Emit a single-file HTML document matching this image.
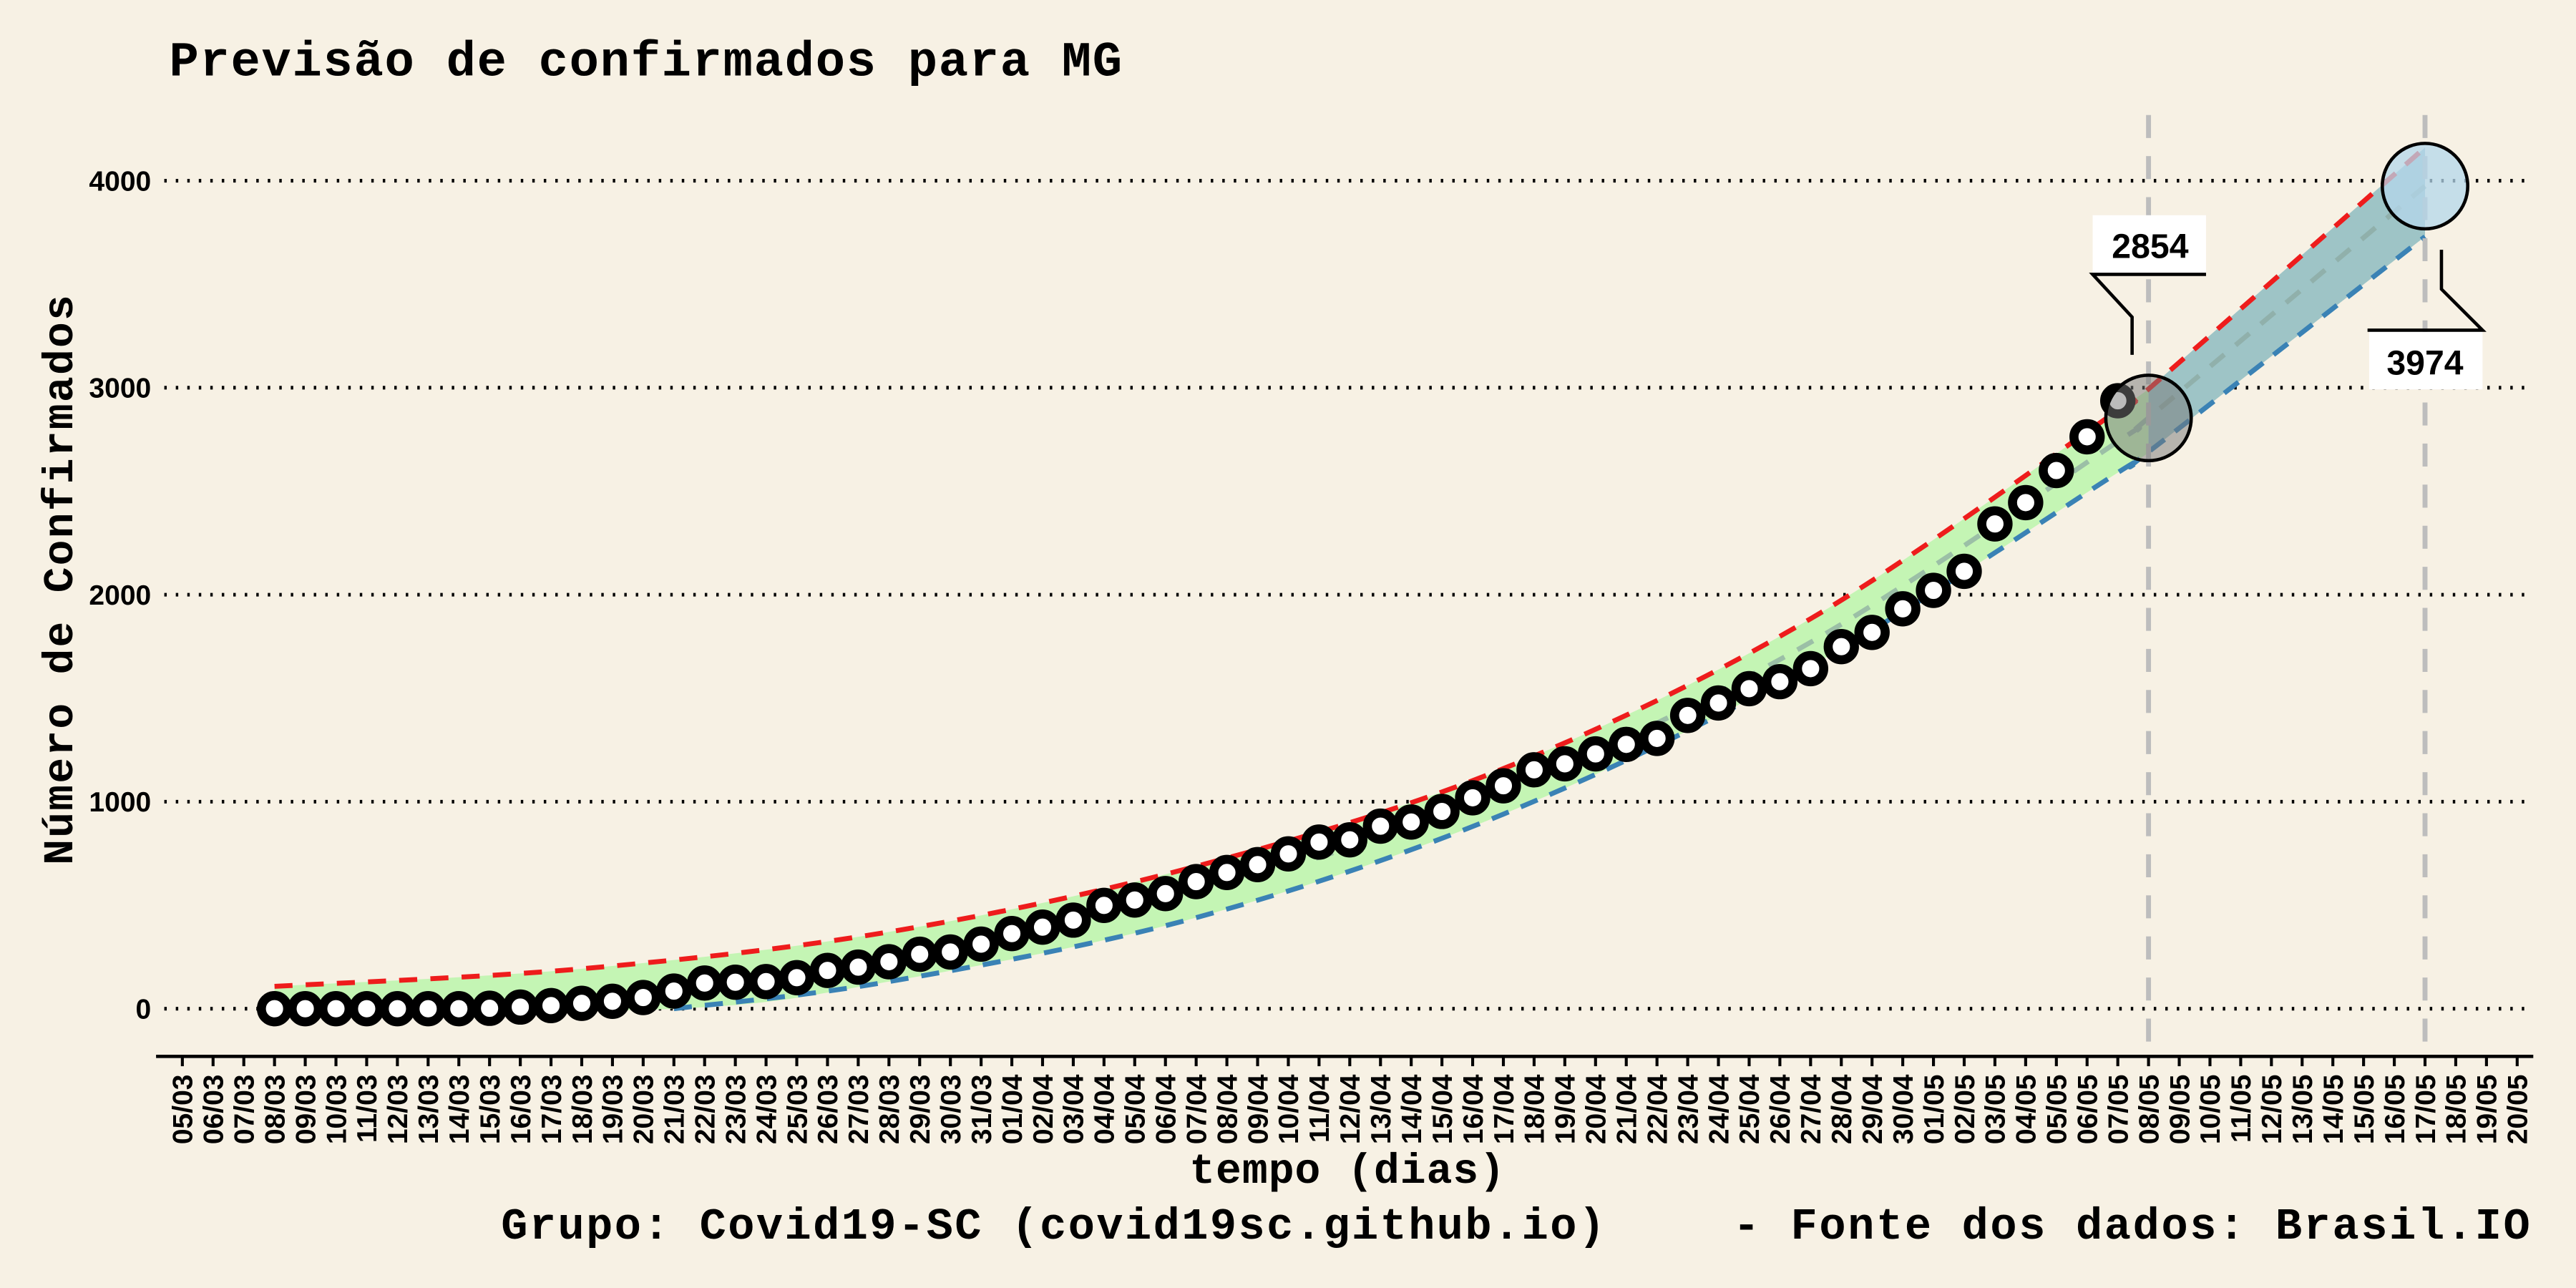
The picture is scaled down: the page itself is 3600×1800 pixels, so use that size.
<!DOCTYPE html>
<html><head><meta charset="utf-8">
<style>
html,body{margin:0;padding:0;background:#f7f1e4;}
svg{display:block;}
.mono{font-family:"Liberation Mono",monospace;font-weight:bold;fill:#000;}
.sans{font-family:"Liberation Sans",sans-serif;font-weight:bold;fill:#000;}
</style></head>
<body>
<svg id="chart" width="3600" height="1800" viewBox="0 0 1568 784" xmlns="http://www.w3.org/2000/svg">
<rect width="1568" height="784" fill="#f7f1e4"/>
<text class="mono" x="103" y="46" font-size="30" textLength="580">Previsão de confirmados para MG</text>
<text class="mono" transform="translate(44,353) rotate(-90)" text-anchor="middle" font-size="26" textLength="347">Número de Confirmados</text>
<text class="mono" x="820" y="720" text-anchor="middle" font-size="26" textLength="192">tempo (dias)</text>
<g>
<text class="mono" x="305" y="754" font-size="27" textLength="672">Grupo: Covid19-SC (covid19sc.github.io)</text>
<text class="mono" x="1063" y="754" text-anchor="middle" font-size="27">-</text>
<text class="mono" x="1540" y="754" text-anchor="end" font-size="27" textLength="450">Fonte dos dados: Brasil.IO</text>
</g>
<g id="grid"></g><g id="bands"></g><g id="vlines"></g><g id="points"></g><g id="axis"></g><g id="annot"></g>
</svg>
<script>
// ---- data ----
const yTicks = [0, 1000, 2000, 3000, 4000];
const nDays = 77; // 05/03 .. 20/05
const obsStartDay = 3; // 08/03
const observed = [0,0,0,0,0,0,0,2,8,15,26,36,54,85,124,128,131,150,185,201,227,263,274,312,363,394,428,499,525,556,614,
  658,696,748,805,816,882,902,953,1019,1077,1154,1183,1231,1277,1306,1417,1477,1546,1580,1643,1749,1818,1932,2021,2113,2342,2445,2600,2763,2937];
const upperDays = [3,13,23,33,43,53,63,64,73];
const upperVals = [108,193,371,688,1160,1884,2890,2994,4160];
const lowerDays = [3,16,23,33,43,53,63,64,73];
const lowerVals = [0,0,131,440,940,1655,2590,2690,3730];
const centerDays = [16,23,33,43,53,63,64,73];
const centerVals = [60,250,560,1050,1770,2740,2854,3974];
const forecastDays = [64,73];
const forecastVals = [2854,3974];

// ---- scales ----
const X = d => 111 + d*18.7;
const Y = v => 614 - v*0.126;
const NS = "http://www.w3.org/2000/svg";
function mk(tag, attrs, parent){const e=document.createElementNS(NS,tag);for(const k in attrs)e.setAttribute(k,attrs[k]);parent.appendChild(e);return e;}
function pts(days, vals){return days.map((d,i)=>[X(d),Y(vals[i])]);}
function smooth(p){let s=`M${p[0][0]},${p[0][1]}`;for(let i=0;i<p.length-1;i++){const p0=p[i-1]||p[i],p1=p[i],p2=p[i+1],p3=p[i+2]||p2;
 s+=` C${p1[0]+(p2[0]-p0[0])/6},${p1[1]+(p2[1]-p0[1])/6} ${p2[0]-(p3[0]-p1[0])/6},${p2[1]-(p3[1]-p1[1])/6} ${p2[0]},${p2[1]}`;}return s;}
function subset(days, vals, a, b){const d=[],v=[];days.forEach((x,i)=>{if(x>=a&&x<=b){d.push(x);v.push(vals[i]);}});return [d,v];}
function smoothRev(p){return smooth(p.slice().reverse()).replace(/^M/,'L');}

// grid
const grid=document.getElementById('grid');
yTicks.forEach(t=>{
  const l=mk('line',{x1:100,x2:1542,y1:Y(t),y2:Y(t),stroke:'#000','stroke-width':2.2,'stroke-dasharray':'1.5 5.5'},grid);
  
  
  const tx=mk('text',{x:92,y:Y(t)+6,'text-anchor':'end','font-size':17,class:'sans'},grid);
  tx.textContent=t;
  
  
});

// bands
const bands=document.getElementById('bands');
let [ud,uv]=subset(upperDays,upperVals,3,64), [ld,lv]=subset(lowerDays,lowerVals,3,64);
const g1=mk('path',{d:smooth(pts(ud,uv))+' '+smoothRev(pts(ld,lv))+' Z',fill:'#c4f5b4'},bands);


[ud,uv]=subset(upperDays,upperVals,64,73);[ld,lv]=subset(lowerDays,lowerVals,64,73);
const g2=mk('path',{d:smooth(pts(ud,uv))+' '+smoothRev(pts(ld,lv))+' Z',fill:'#9ec4c6'},bands);


const cl=mk('path',{d:smooth(pts(centerDays,centerVals)),fill:'none',stroke:'#8aa8a0','stroke-width':3,'stroke-dasharray':'11 9',opacity:0.7},bands);


const ul=mk('path',{d:smooth(pts(upperDays,upperVals)),fill:'none',stroke:'#ee1c1c','stroke-width':3,'stroke-dasharray':'11 8'},bands);


[ld,lv]=subset(lowerDays,lowerVals,16,73);
const ll=mk('path',{d:smooth(pts(ld,lv)),fill:'none',stroke:'#3a82b5','stroke-width':3,'stroke-dasharray':'11 8'},bands);



// vertical lines
const vl=document.getElementById('vlines');
forecastDays.forEach(d=>{
  const l=mk('line',{x1:X(d),x2:X(d),y1:70,y2:643,stroke:'#bdbdbd','stroke-width':3,'stroke-dasharray':'14 11'},vl);
  
  
});

// observed points
const pg=document.getElementById('points');
observed.forEach((v,i)=>{
  const c=mk('circle',{cx:X(obsStartDay+i),cy:Y(v),r:8,fill:'#fff',stroke:'#000','stroke-width':5.5},pg);
  
  
});
// forecast circles
const fills=['rgba(120,120,120,0.5)','rgba(180,215,235,0.75)'];
forecastDays.forEach((d,i)=>{
  const c=mk('circle',{cx:X(d),cy:Y(forecastVals[i]),r:26,fill:fills[i],stroke:'#000','stroke-width':2},pg);
  
  
});

// axis
const ax=document.getElementById('axis');
const al=mk('line',{x1:95,x2:1542,y1:643,y2:643,stroke:'#000','stroke-width':2},ax);


const start=new Date(2020,2,5);
for(let d=0;d<nDays;d++){
  const dt=new Date(start.getTime()+d*86400000+3600000*2);
  const lab=String(dt.getDate()).padStart(2,'0')+'/'+String(dt.getMonth()+1).padStart(2,'0');
  const t=mk('line',{x1:X(d),x2:X(d),y1:643,y2:649,stroke:'#000','stroke-width':1.8},ax);
  
  
  const tx=mk('text',{transform:`translate(${X(d)+6},654) rotate(-90)`,'text-anchor':'end','font-size':17,class:'sans'},ax);
  tx.textContent=lab;
  
  
}

// annotations
const an=document.getElementById('annot');
const x1=X(forecastDays[0]), x2=X(forecastDays[1]);
const b1=mk('rect',{x:x1-34,y:131,width:69,height:35,fill:'#fff'},an);


const t1=mk('text',{x:x1+1,y:157,'text-anchor':'middle','font-size':21,class:'sans'},an);
t1.textContent=forecastVals[0];


const p1=mk('path',{d:`M${x1+35},167 L${x1-34},167 L${x1-10},193 L${x1-10},216`,fill:'none',stroke:'#000','stroke-width':2},an);


const b2=mk('rect',{x:x2-34,y:202,width:69,height:35,fill:'#fff'},an);


const t2=mk('text',{x:x2,y:228,'text-anchor':'middle','font-size':21,class:'sans'},an);
t2.textContent=forecastVals[1];


const p2=mk('path',{d:`M${x2-35},201 L${x2+35},201 L${x2+10},176 L${x2+10},152`,fill:'none',stroke:'#000','stroke-width':2},an);


</script>
</body></html>
